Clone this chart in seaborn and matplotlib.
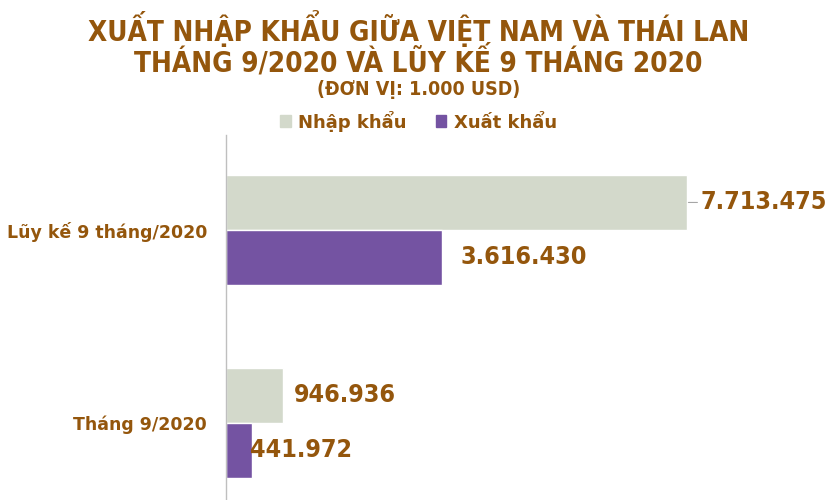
import pandas as pd
import matplotlib.pyplot as plt
import seaborn as sns

# dữ liệu
categories = ['Lũy kế 9 tháng/2020', 'Tháng 9/2020']
nhap_khau = [7713475, 946936]
xuat_khau = [3616430, 441972]
series_names = ['Nhập khẩu', 'Xuất khẩu']

BROWN = '#94560c'
colors = {'Nhập khẩu': '#d3d9cb', 'Xuất khẩu': '#7453a2'}

def fmt(v):
    return format(v, ',').replace(',', '.')

df = pd.DataFrame({
    'cat': categories * 2,
    'series': [series_names[0]] * 2 + [series_names[1]] * 2,
    'value': nhap_khau + xuat_khau,
})

sns.set_style('white')
plt.rcParams['font.family'] = ['DejaVu Sans']

fig = plt.figure(figsize=(8.37, 5.0), dpi=100)
ax = fig.add_axes([226 / 837, 0, 510 / 837, 365 / 500])

sns.barplot(data=df, y='cat', x='value', hue='series', orient='h',
            palette=colors, width=0.57, ax=ax, legend=False, saturation=1)

ax.set_xlim(0, 7713475 * 510 / 461)
ax.set_ylim(1.399, -0.492)
ax.set_xlabel('')
ax.set_ylabel('')
ax.set_xticks([])
for s in ['top', 'right', 'bottom']:
    ax.spines[s].set_visible(False)
ax.spines['left'].set_color('#bfbfbf')
ax.spines['left'].set_linewidth(1)
ax.tick_params(axis='y', length=0, pad=13.5)
for lbl in ax.get_yticklabels():
    lbl.set_fontsize(12.5)
    lbl.set_fontweight('bold')
    lbl.set_color(BROWN)

# nhãn giá trị (khoảng cách tính bằng point)
h = 0.285
offsets = [10, 13, 8, -2]
for i in range(len(categories)):
    for j, vals in enumerate([nhap_khau, xuat_khau]):
        y = i + (j - 0.5) * h
        dx = offsets[i * 2 + j]
        ax.annotate(fmt(vals[i]), xy=(vals[i], y), xytext=(dx, 0),
                    textcoords='offset points', ha='left', va='center',
                    fontsize=18, fontweight='bold', color=BROWN,
                    fontstretch='condensed')
# đường dẫn nhỏ cho nhãn đầu
ax.annotate('', xy=(nhap_khau[0], -h / 2), xytext=(7.5, 0),
            textcoords='offset points',
            arrowprops=dict(arrowstyle='-', color='#a6a6a6', lw=0.8,
                            shrinkA=0, shrinkB=1))

# tiêu đề
fig.text(0.5, 1 - 72 / 500,
         'XUẤT NHẬP KHẨU GIỮA VIỆT NAM VÀ THÁI LAN\nTHÁNG 9/2020 VÀ LŨY KẾ 9 THÁNG 2020',
         ha='center', va='baseline', multialignment='center', linespacing=0.95,
         fontsize=20, fontweight='bold', color=BROWN, fontstretch='condensed')
fig.text(0.5, 1 - 95 / 500, '(ĐƠN VỊ: 1.000 USD)',
         ha='center', va='baseline', fontsize=14, fontweight='bold',
         color=BROWN, fontstretch='condensed')

handles = [plt.Rectangle((0, 0), 1, 1, color=colors[n]) for n in series_names]
fig.legend(handles, series_names, loc='center', bbox_to_anchor=(0.5, 1 - 121 / 500),
           ncol=2, frameon=False, handlelength=0.6, handleheight=0.6,
           handletextpad=0.4, columnspacing=1.6,
           prop={'weight': 'bold', 'size': 13}, labelcolor=BROWN)

fig.savefig('out.png', dpi=100)
